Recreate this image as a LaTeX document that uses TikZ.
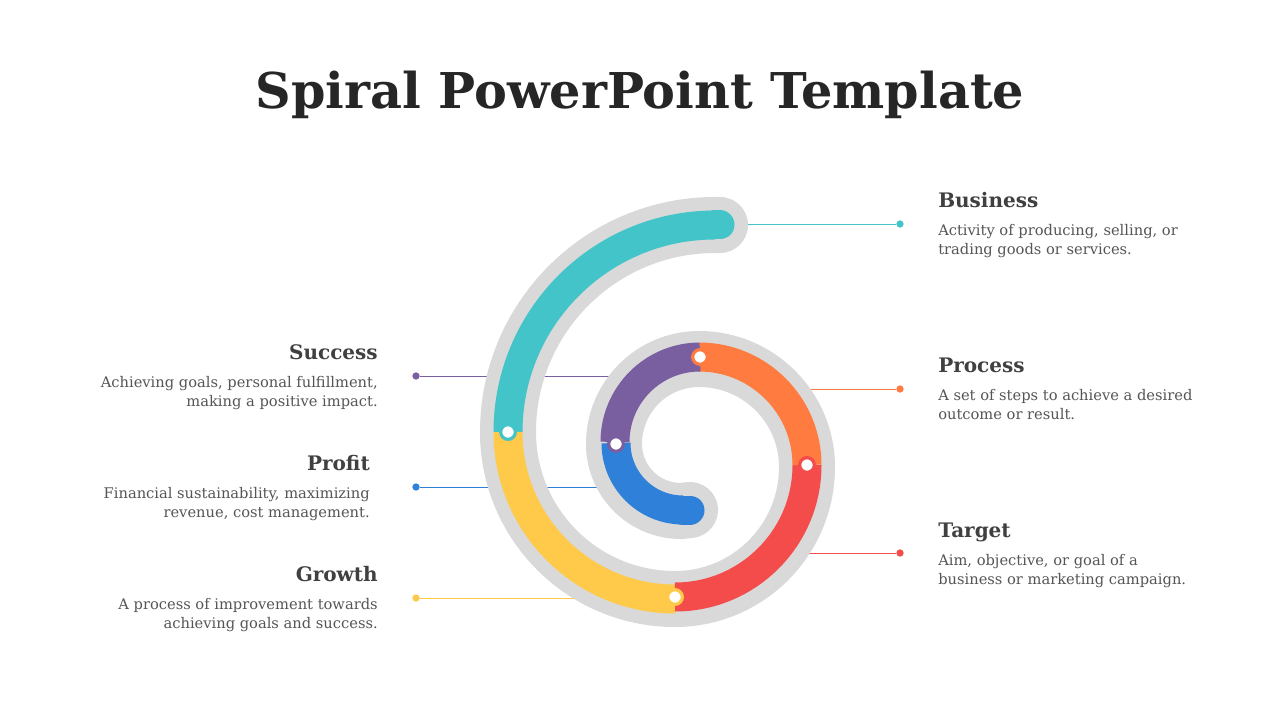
\documentclass[tikz,border=0pt]{standalone}
\usepackage{fontspec}
\setmainfont{DejaVu Serif}
\begin{document}
\begin{tikzpicture}[x=0.75pt,y=-0.75pt,
  gb/.style={line width=42pt,draw=gy,line cap=round},
  seg/.style={line width=21.75pt},
  ring/.style={circle,fill=white,draw=#1,line width=2.4pt,minimum size=11pt,inner sep=0pt},
  lk/.style={line width=0.6pt,draw=#1},
  ldot/.style={circle,fill=#1,inner sep=0pt,minimum size=5.5pt},
  hd/.style={font=\fontsize{15}{18}\selectfont\bfseries,text=tx1,inner sep=0pt},
  bd/.style={font=\fontsize{11}{14.4}\selectfont,text=tx2,inner sep=0pt}]
\definecolor{gy}{HTML}{D9D9D9}
\definecolor{tl}{HTML}{42C4C9}
\definecolor{yl}{HTML}{FFC94A}
\definecolor{rd}{HTML}{F44B4B}
\definecolor{og}{HTML}{FF7B3F}
\definecolor{pp}{HTML}{7A5FA0}
\definecolor{bl}{HTML}{2F80D8}
\definecolor{tx1}{HTML}{404040}
\definecolor{tx2}{HTML}{555555}
\useasboundingbox (0,0) rectangle (1280,720);
\fill[white] (0,0) rectangle (1280,720);
\node[font=\fontsize{37}{40}\selectfont\bfseries,text=black!85] (title) at (640,95) {Spiral PowerPoint Template};
% connectors
\node[ldot=tl] (d1) at (900,224) {}; \coordinate (c1) at (735,224);
\node[ldot=og] (d2) at (900,389) {}; \coordinate (c2) at (760,389);
\node[ldot=rd] (d3) at (900,553) {}; \coordinate (c3) at (760,553);
\node[ldot=pp] (d4) at (416,376) {}; \coordinate (c4) at (640,376);
\node[ldot=bl] (d5) at (416,487) {}; \coordinate (c5) at (630,487);
\node[ldot=yl] (d6) at (416,598) {}; \coordinate (c6) at (640,598);
\draw[lk=tl] (c1)--(d1); \draw[lk=og] (c2)--(d2); \draw[lk=rd] (c3)--(d3);
\draw[lk=pp] (c4)--(d4); \draw[lk=bl] (c5)--(d5); \draw[lk=yl] (c6)--(d6);
% gray band
\draw[gb] (720,225) -- (715,225) arc[start angle=-90,end angle=-180,radius=207]
  arc[start angle=180,end angle=90,radius=167]
  arc[start angle=90,end angle=0,radius=132]
  arc[start angle=0,end angle=-90,radius=108]
  arc[start angle=-90,end angle=-180,radius=85]
  arc[start angle=180,end angle=90,radius=67] -- (690,510);
% colored segments
\draw[seg,draw=tl,line cap=round] (720,225) -- (715,225);
\draw[seg,draw=tl] (715,225) arc[start angle=-90,end angle=-180,radius=207];
\draw[seg,draw=yl] (508,432) arc[start angle=180,end angle=90,radius=167];
\draw[seg,draw=rd] (675,597) arc[start angle=90,end angle=0,radius=132];
\draw[seg,draw=og] (807,465) arc[start angle=0,end angle=-90,radius=108];
\draw[seg,draw=pp] (700,357) arc[start angle=-90,end angle=-180,radius=85];
\draw[seg,draw=bl] (616,443) arc[start angle=180,end angle=90,radius=67];
\draw[seg,draw=bl,line cap=round] (683,510) -- (690,510);
% rings
\node[ring=tl] (r1) at (508,432) {};
\node[ring=yl] (r2) at (675,597) {};
\node[ring=rd] (r3) at (807,465) {};
\node[ring=og] (r4) at (700,357) {};
\node[ring=pp] (r5) at (616,444) {};
% texts right
\node[hd,anchor=base west] (h1) at (938,208) {Business};
\node[bd,anchor=north west,align=left] (b1) at (938,224) {Activity of producing, selling, or\\trading goods or services.};
\node[hd,anchor=base west] (h2) at (938,372) {Process};
\node[bd,anchor=north west,align=left] (b2) at (938,389) {A set of steps to achieve a desired\\outcome or result.};
\node[hd,anchor=base west] (h3) at (938,537) {Target};
\node[bd,anchor=north west,align=left] (b3) at (938,554) {Aim, objective, or goal of a\\business or marketing campaign.};
% texts left
\node[hd,anchor=base east] (h4) at (378,359) {Success};
\node[bd,anchor=north east,align=right] (b4) at (378,376) {Achieving goals, personal fulfillment,\\making a positive impact.};
\node[hd,anchor=base east] (h5) at (370,470) {Profit};
\node[bd,anchor=north east,align=right] (b5) at (370,487) {Financial sustainability, maximizing\\revenue, cost management.};
\node[hd,anchor=base east] (h6) at (378,581) {Growth};
\node[bd,anchor=north east,align=right] (b6) at (378,598) {A process of improvement towards\\achieving goals and success.};
\end{tikzpicture}
\end{document}
